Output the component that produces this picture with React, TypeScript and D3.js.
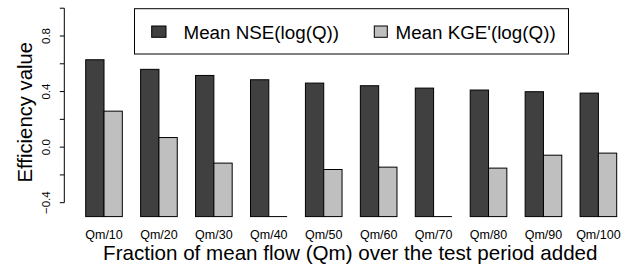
import React from "react";
import * as d3 from "d3";

const categories = ["Qm/10", "Qm/20", "Qm/30", "Qm/40", "Qm/50", "Qm/60", "Qm/70", "Qm/80", "Qm/90", "Qm/100"];
const nseValues = [0.629, 0.56, 0.516, 0.485, 0.461, 0.442, 0.425, 0.411, 0.399, 0.389];
const kgeValues = [0.259, 0.069, -0.115, -0.5, -0.161, -0.144, -0.5, -0.151, -0.058, -0.043];
const yTicks = [-0.4, -0.2, 0, 0.2, 0.4, 0.6, 0.8, 1.0];
const yTickLabels = [-0.4, 0, 0.4, 0.8];
const seriesNames = ["Mean NSE(log(Q))", "Mean KGE'(log(Q))"];
const colors = ["#404040", "#bfbfbf"];
const baseValue = -0.5;

const W = 630;
const H = 269;
const FONT = "'Liberation Sans', Arial, sans-serif";

export default function App() {
  const y = d3.scaleLinear().domain([-0.4, 0.8]).range([202.7, 36]);
  // bar units: each group = 1 space + 2 bars
  const xu = d3.scaleLinear().domain([1, 30]).range([85.7, 616.7]);
  const bw = xu(1) - xu(0);
  const fmt = (v: number) => (v < 0 ? "\u2212" : "") + Math.abs(v).toFixed(1);
  const axisX = 64.3;

  return (
    <svg width={W} height={H} style={{ position: "absolute", left: 0, top: 0, background: "#fff" }}>
      {categories.map((c, i) => {
        const start = 3 * i + 1;
        const series = [nseValues[i], kgeValues[i]];
        return (
          <g key={c}>
            {series.map((v, j) => {
              const x0 = xu(start + j);
              const top = y(Math.max(v, baseValue));
              const bot = y(baseValue);
              const h = bot - top;
              if (h < 0.5) {
                return (
                  <line key={j} x1={x0} x2={x0 + bw} y1={bot} y2={bot} stroke="#000" strokeWidth={1} />
                );
              }
              return (
                <rect
                  key={j}
                  x={x0}
                  y={top}
                  width={bw}
                  height={h}
                  fill={colors[j]}
                  stroke="#000"
                  strokeWidth={1}
                />
              );
            })}
            <text
              x={xu(start + 1)}
              y={239}
              textAnchor="middle"
              fontFamily={FONT}
              fontSize={12.5}
              fill="#000"
            >
              {c}
            </text>
          </g>
        );
      })}
      {/* y axis */}
      <line x1={axisX} x2={axisX} y1={y(1.0)} y2={y(-0.4)} stroke="#000" strokeWidth={1} />
      {yTicks.map((t) => (
        <line key={t} x1={axisX - 4.5} x2={axisX} y1={y(t)} y2={y(t)} stroke="#000" strokeWidth={1} />
      ))}
      {yTickLabels.map((t) => (
        <text
          key={t}
          transform={`translate(50,${y(t)}) rotate(-90)`}
          textAnchor="middle"
          fontFamily={FONT}
          fontSize={11.5}
          fill="#000"
        >
          {fmt(t)}
        </text>
      ))}
      <text
        transform={`translate(32.3,112.2) rotate(-90)`}
        textAnchor="middle"
        fontFamily={FONT}
        fontSize={20.3}
        fill="#000"
      >
        Efficiency value
      </text>
      <text x={350.3} y={259.5} textAnchor="middle" fontFamily={FONT} fontSize={20.6} fill="#000">
        Fraction of mean flow (Qm) over the test period added
      </text>
      {/* legend */}
      <rect x={134.5} y={8.7} width={434} height={45.3} fill="#fff" stroke="#000" strokeWidth={1} />
      <rect x={151.7} y={26} width={14.3} height={11.3} fill={colors[0]} stroke="#000" strokeWidth={1} />
      <text x={183.5} y={38.8} fontFamily={FONT} fontSize={18.8} fill="#000">
        {seriesNames[0]}
      </text>
      <rect x={374.3} y={26} width={13} height={11.3} fill={colors[1]} stroke="#000" strokeWidth={1} />
      <text x={395.5} y={38.8} fontFamily={FONT} fontSize={18.8} fill="#000">
        {seriesNames[1]}
      </text>
    </svg>
  );
}
